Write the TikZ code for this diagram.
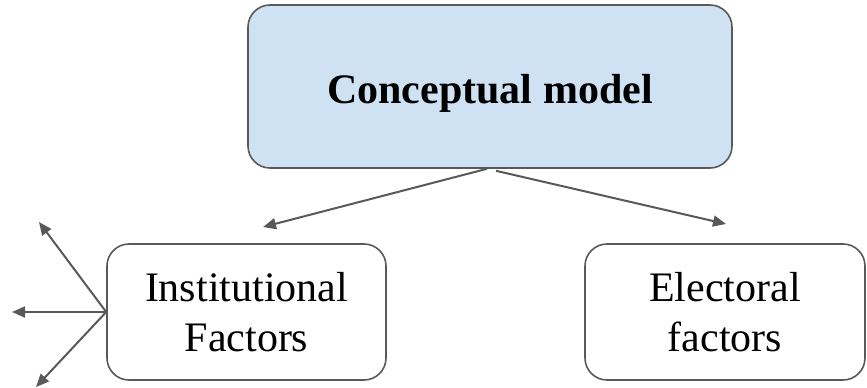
\documentclass[tikz,border=0pt]{standalone}
\usepackage{fontspec}
\setmainfont{Liberation Serif}
\usetikzlibrary{arrows.meta}
\definecolor{boxblue}{HTML}{CFE2F3}
\definecolor{linegray}{HTML}{595959}

\begin{document}
\begin{tikzpicture}[x=1pt,y=-1pt,
	box/.style={draw=linegray, line width=1.6pt, rounded corners=22pt, inner sep=0pt,
		align=center, font=\fontsize{42}{50}\selectfont},
	arr/.style={draw=linegray, line width=2pt, -{Triangle[length=13pt,width=11pt]}}]
	\useasboundingbox (0,0) rectangle (867,388);
	\node[box, fill=boxblue, minimum width=484pt, minimum height=163pt] (model) at (490,86.5) {};
	\node[font=\fontsize{42}{50}\selectfont\bfseries, anchor=base] (title) at (490,103) {Conceptual model};
	\node[box, minimum width=279pt, minimum height=136pt] (inst) at (246.5,312) {Institutional\\Factors};
	\node[box, minimum width=280pt, minimum height=136pt] (elec) at (725,312) {Electoral\\factors};
	% arrow ends
	\coordinate (instend) at (263,227);
	\coordinate (elecend) at (726,224);
	\coordinate (up) at (39,222);
	\coordinate (left) at (12,312);
	\coordinate (down) at (36,387);
	\draw[arr] ([xshift=-3pt]model.south) -- (instend);
	\draw[arr] ([xshift=6pt,yshift=-2pt]model.south) -- (elecend);
	\draw[arr] (inst.west) -- (up);
	\draw[arr] (inst.west) -- (left);
	\draw[arr] (inst.west) -- (down);
\end{tikzpicture}
\end{document}
